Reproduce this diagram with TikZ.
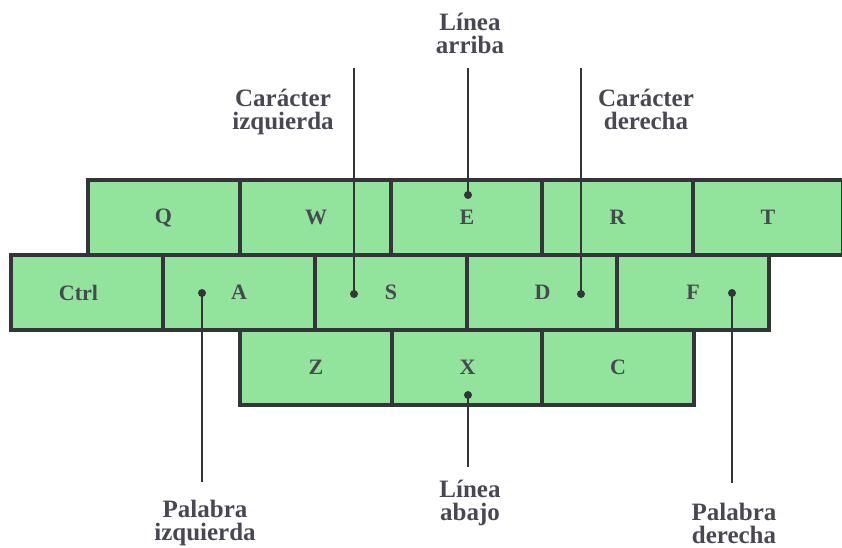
\documentclass[tikz,border=0pt]{standalone}
\usepackage{fontspec}
\setmainfont{Liberation Serif}
\definecolor{keygreen}{RGB}{146,228,156}
\definecolor{keyline}{RGB}{52,52,58}
\definecolor{labelgray}{RGB}{72,72,82}
\tikzset{
  keybox/.style={draw=keyline, fill=keygreen, line width=4pt, minimum width=152pt,
    minimum height=75pt, inner sep=0pt, text=labelgray,
    font=\fontsize{22}{22}\selectfont\bfseries},
  dotmark/.style={circle, fill=keyline, inner sep=0pt, minimum size=8pt},
  pointer/.style={keyline, line width=1.8pt},
  caption/.style={align=center, text=labelgray, anchor=base,
    font=\fontsize{25}{23}\selectfont\bfseries}
}
\begin{document}
\begin{tikzpicture}[x=1pt,y=-1pt]
      \useasboundingbox (0,0) rectangle (842,547);
      % row Q
      \node[keybox] (q) at (163.5,217.5) {Q};
      \node[keybox] (w) at (316,217.5) {W};
      \node[keybox] (e) at (467,217.5) {\raisebox{-5pt}{E}};
      \node[keybox] (r) at (617.5,217.5) {R};
      \node[keybox, minimum width=150pt] (t) at (768,217.5) {T};
      % row A
      \node[keybox] (ctrl) at (86.5,292.5) {\hspace*{-16pt}Ctrl};
      \node[keybox] (a) at (239,292.5) {\raisebox{-3pt}{A}};
      \node[keybox] (s) at (391,292.5) {\raisebox{-3pt}{S}};
      \node[keybox] (d) at (542.5,292.5) {\raisebox{-3pt}{D}};
      \node[keybox] (f) at (693,292.5) {\raisebox{-3pt}{F}};
      % row Z
      \node[keybox] (z) at (316,367.5) {Z};
      \node[keybox] (x) at (467.5,367.5) {\raisebox{-4pt}{X}};
      \node[keybox] (c) at (618,367.5) {C};
      % dots
      \node[dotmark] (edot) at (468,195) {};
      \node[dotmark] (sdot) at (354,294) {};
      \node[dotmark] (ddot) at (581,294) {};
      \node[dotmark] (adot) at (202,293) {};
      \node[dotmark] (fdot) at (732,293) {};
      \node[dotmark] (xdot) at (468,395) {};
      % line ends
      \coordinate (etop) at (468,68);
      \coordinate (stop) at (354,68);
      \coordinate (dtop) at (581,68);
      \coordinate (abot) at (202,482);
      \coordinate (xbot) at (468,467);
      \coordinate (fbot) at (732,483);
      \draw[pointer] (etop) -- (edot.center);
      \draw[pointer] (stop) -- (sdot.center);
      \draw[pointer] (dtop) -- (ddot.center);
      \draw[pointer] (adot.center) -- (abot);
      \draw[pointer] (xdot.center) -- (xbot);
      \draw[pointer] (fdot.center) -- (fbot);
      % captions (base = last line)
      \node[caption] (up) at (470,53) {Línea\\arriba};
      \node[caption] (left) at (283,129) {Carácter\\izquierda};
      \node[caption] (right) at (646,129) {Carácter\\derecha};
      \node[caption] (wleft) at (205,540) {Palabra\\izquierda};
      \node[caption] (down) at (470,520) {Línea\\abajo};
      \node[caption] (wright) at (734,543) {Palabra\\derecha};
\end{tikzpicture}
\end{document}
